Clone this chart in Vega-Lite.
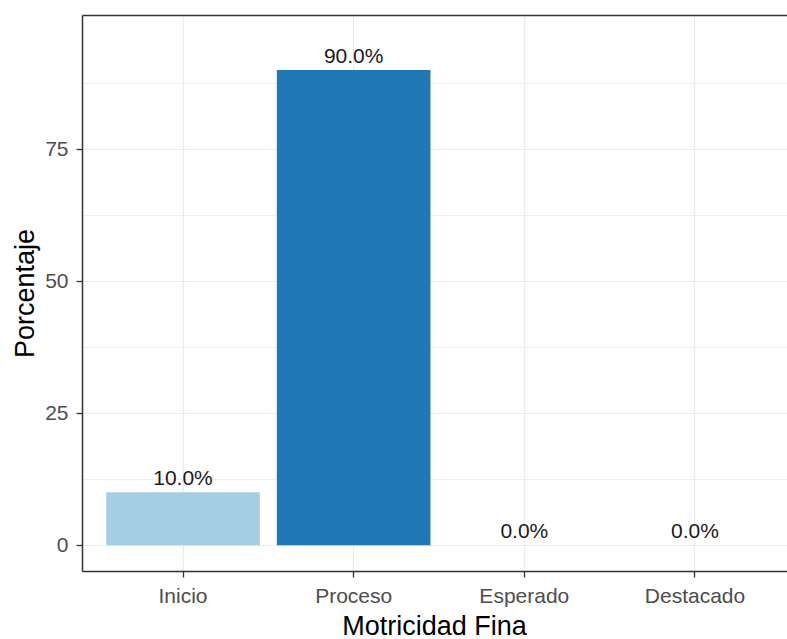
{
  "$schema": "https://vega.github.io/schema/vega-lite/v6.json",
  "autosize": {"type": "none"},
  "padding": {"left": 82, "top": 15, "right": 0, "bottom": 68},
  "width": 705,
  "height": 556,
  "background": "white",
  "config": {
    "font": "Liberation Sans",
    "view": {"stroke": null},
    "axis": {
      "labelFont": "Liberation Sans",
      "titleFont": "Liberation Sans",
      "gridColor": "#ebebeb",
      "gridWidth": 1.2,
      "domain": true,
      "domainColor": "#333333",
      "domainWidth": 1.5,
      "tickColor": "#333333",
      "tickWidth": 1.3,
      "tickSize": 6,
      "labelColor": "#4d4d4d",
      "labelFontSize": 21,
      "titleColor": "#000000",
      "titleFontSize": 27,
      "titleFontWeight": "normal"
    }
  },
  "data": {
    "values": [
      {"Nivel": "Inicio", "Porcentaje": 10, "Etiqueta": "10.0%"},
      {"Nivel": "Proceso", "Porcentaje": 90, "Etiqueta": "90.0%"},
      {"Nivel": "Esperado", "Porcentaje": 0, "Etiqueta": "0.0%"},
      {"Nivel": "Destacado", "Porcentaje": 0, "Etiqueta": "0.0%"}
    ]
  },
  "layer": [
    {
      "mark": {"type": "point", "opacity": 0},
      "encoding": {
        "x": {
          "field": "Nivel",
          "type": "nominal",
          "sort": ["Inicio", "Proceso", "Esperado", "Destacado"],
          "scale": {"paddingInner": 0.1, "paddingOuter": 0.1155, "align": 0.614},
          "axis": {
            "orient": "top",
            "labels": false,
            "ticks": false,
            "grid": false,
            "title": null
          }
        },
        "y": {
          "field": "Porcentaje",
          "type": "quantitative",
          "scale": {"domain": [-4.9, 100.4], "nice": false, "zero": false},
          "axis": {
            "orient": "left",
            "values": [12.5, 37.5, 62.5, 87.5],
            "grid": true,
            "gridWidth": 0.8,
            "labels": false,
            "ticks": false,
            "domain": false,
            "title": null
          }
        }
      }
    },
    {
      "mark": {"type": "bar", "clip": true},
      "encoding": {
        "x": {
          "field": "Nivel",
          "type": "nominal",
          "sort": ["Inicio", "Proceso", "Esperado", "Destacado"],
          "axis": {
            "orient": "bottom",
            "title": "Motricidad Fina",
            "labelAngle": 0,
            "labelPadding": 8,
            "bandPosition": 0.5,
            "grid": true,
            "titleX": 352,
            "titleY": 63,
            "titleAlign": "center",
            "titleBaseline": "alphabetic"
          }
        },
        "y": {
          "field": "Porcentaje",
          "type": "quantitative",
          "axis": {
            "orient": "left",
            "title": "Porcentaje",
            "values": [0, 25, 50, 75],
            "grid": true,
            "labelPadding": 8,
            "titleX": -49,
            "titleY": 278,
            "titleAngle": -90,
            "titleAlign": "center",
            "titleBaseline": "alphabetic"
          }
        },
        "y2": {"datum": 0},
        "color": {
          "field": "Nivel",
          "type": "nominal",
          "scale": {
            "domain": ["Inicio", "Proceso", "Esperado", "Destacado"],
            "range": ["#a6cee3", "#1f78b4", "#b2df8a", "#33a02c"]
          },
          "legend": null
        }
      }
    },
    {
      "mark": {
        "type": "text",
        "baseline": "alphabetic",
        "dy": -7,
        "fontSize": 21,
        "color": "#1a1a1a",
        "font": "Liberation Sans"
      },
      "encoding": {
        "x": {
          "field": "Nivel",
          "type": "nominal",
          "sort": ["Inicio", "Proceso", "Esperado", "Destacado"],
          "axis": null
        },
        "y": {"field": "Porcentaje", "type": "quantitative", "axis": null},
        "text": {"field": "Etiqueta"}
      }
    }
  ],
  "resolve": {"axis": {"x": "independent", "y": "independent"}}
}
